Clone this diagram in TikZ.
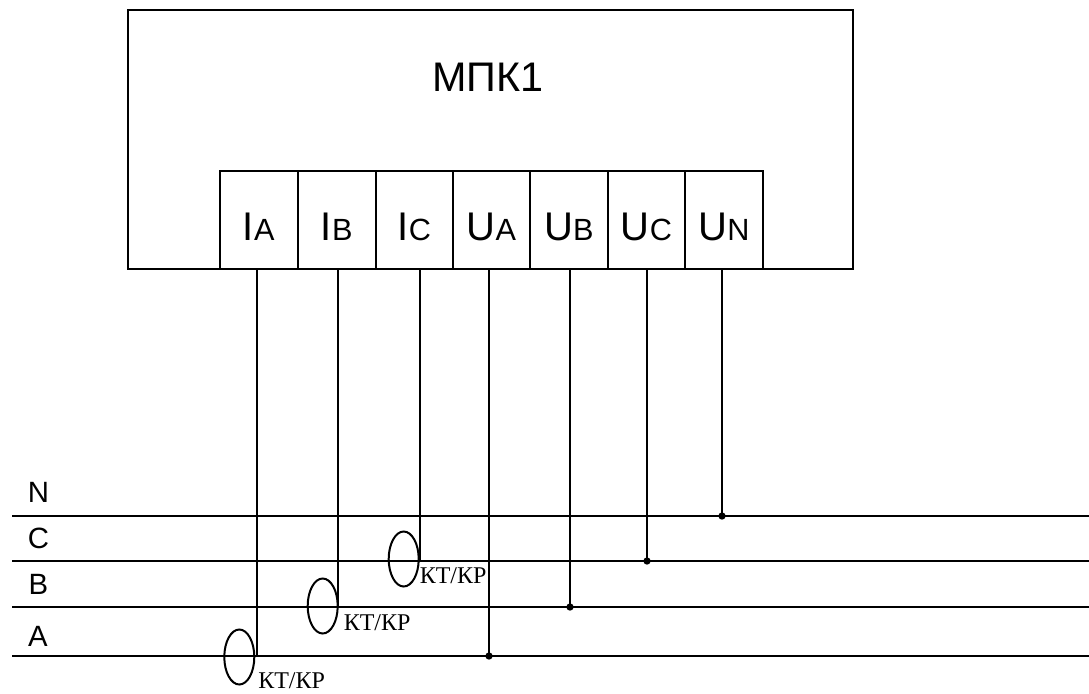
\documentclass[tikz,border=0pt]{standalone}
\usepackage{fontspec}
\setmainfont{Liberation Sans}
\newfontfamily\serifk{Liberation Serif}
\newcommand{\subl}[2]{\smash{\raisebox{-15pt}{{\fontsize{30pt}{32pt}\selectfont #1}{\fontsize{23pt}{25pt}\selectfont #2}}}}
\usetikzlibrary{shapes.geometric}
\tikzset{
  mainbox/.style={draw=black,line width=1.5pt,outer sep=0pt,minimum width=543.75pt,minimum height=194.25pt,inner sep=0pt},
  cell/.style={draw=black,line width=1.5pt,outer sep=0pt,fill=white,anchor=north west,minimum width=#1*0.75pt,minimum height=73.5pt,inner sep=0pt},
  bus/.style={line width=1.5pt},
  wire/.style={line width=1.5pt},
  ct/.style={draw=black,line width=1.5pt,outer sep=0pt,ellipse,minimum width=22.5pt,minimum height=41.25pt,inner sep=0pt},
  ctlabel/.style={font=\serifk\fontsize{18pt}{20pt}\selectfont,anchor=west,inner sep=0pt},
  phase/.style={font=\fontsize{22pt}{24pt}\selectfont,inner sep=0pt},
  joint/.style={circle,fill=black,draw=none,minimum size=5.5pt,inner sep=0pt}
}
\begin{document}
\begin{tikzpicture}[x=0.75pt,y=-0.75pt]
\useasboundingbox (0,0) rectangle (1089,693);
\node[mainbox,anchor=north west] (mpk) at (128,10) {};
\node[font=\fontsize{31pt}{34pt}\selectfont,inner sep=0pt] (title) at (488,77) {МПК1};
\node[cell=77.5] (ia) at (220,171) {\subl{I}{A}};
\node[cell=78.5] (ib) at (297.5,171) {\subl{I}{B}};
\node[cell=77] (ic) at (376,171) {\subl{I}{C}};
\node[cell=77] (ua) at (453,171) {\subl{U}{A}};
\node[cell=78] (ub) at (530,171) {\subl{U}{B}};
\node[cell=77] (uc) at (608,171) {\subl{U}{C}};
\node[cell=78] (un) at (685,171) {\subl{U}{N}};
% buses
\coordinate (nl) at (12,516); \coordinate (nr) at (1089,516);
\coordinate (cl) at (12,561); \coordinate (cr) at (1089,561);
\coordinate (bl) at (12,607); \coordinate (br) at (1089,607);
\coordinate (al) at (12,656); \coordinate (ar) at (1089,656);
\draw[bus] (nl) -- (nr);
\draw[bus] (cl) -- (cr);
\draw[bus] (bl) -- (br);
\draw[bus] (al) -- (ar);
\node[phase] (pn) at (38.5,492) {N};
\node[phase] (pc) at (38.5,538) {C};
\node[phase] (pb) at (38.5,584) {B};
\node[phase] (pa) at (38,636) {A};
% wire ends
\coordinate (ea) at (257,656);
\coordinate (eb) at (337.5,607);
\coordinate (ec) at (419.5,561);
\node[joint] (jua) at (489,656) {};
\node[joint] (jub) at (570,607) {};
\node[joint] (juc) at (647,561) {};
\node[joint] (jun) at (722,516) {};
\draw[wire] (ea |- ia.south) -- (ea);
\draw[wire] (eb |- ib.south) -- (eb);
\draw[wire] (ec |- ic.south) -- (ec);
\draw[wire] (jua |- ua.south) -- (jua.center);
\draw[wire] (jub |- ub.south) -- (jub.center);
\draw[wire] (juc |- uc.south) -- (juc.center);
\draw[wire] (jun |- un.south) -- (jun.center);
% current transformers
\node[ct] (cta) at (239.3,657) {};
\node[ct] (ctb) at (322.7,606) {};
\node[ct] (ctc) at (403.7,559) {};
\node[ctlabel] (la) at (258,681) {КТ/КР};
\node[ctlabel] (lb) at (343.5,623) {КТ/КР};
\node[ctlabel] (lc) at (419.5,576) {КТ/КР};
\end{tikzpicture}
\end{document}
